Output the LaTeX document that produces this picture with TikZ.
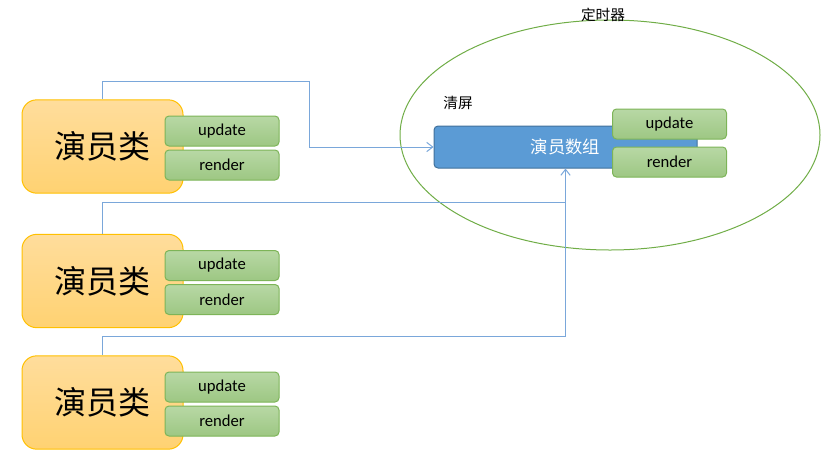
\documentclass[tikz,border=0pt]{standalone}
\usepackage{fontspec}
\setmainfont{Carlito}
\newfontfamily\cjk{Noto Sans CJK SC}
\usetikzlibrary{shapes.geometric,arrows.meta}
\definecolor{actorline}{HTML}{FFC000}
\definecolor{actortop}{HTML}{FFDD9C}
\definecolor{actorbot}{HTML}{FFD272}
\definecolor{methline}{HTML}{7DB458}
\definecolor{methtop}{HTML}{B8D8A5}
\definecolor{methbot}{HTML}{9DC783}
\definecolor{arrfill}{HTML}{5B9BD5}
\definecolor{arrline}{HTML}{41719C}
\definecolor{linkcol}{HTML}{7AA7DA}
\definecolor{timercol}{HTML}{70AD47}
\tikzset{
  actor/.style={draw=actorline, line width=0.75pt, rounded corners=11pt,
    top color=actortop, bottom color=actorbot,
    minimum width=120.75pt, minimum height=70pt,
    font=\cjk\fontsize{24}{24}\selectfont},
  method/.style={draw=methline, line width=0.75pt, rounded corners=3pt,
    top color=methtop, bottom color=methbot,
    minimum width=85.5pt, minimum height=22.5pt, font=\fontsize{12.5}{12.5}\selectfont},
  link/.style={draw=linkcol, line width=0.75pt},
  tip/.style={-{Straight Barb[length=4.5pt,width=7pt]}}
}
\begin{document}
\begin{tikzpicture}[x=0.75pt,y=-0.75pt]
\useasboundingbox (0,0) rectangle (830,472);
% Timer ellipse
\node[draw=timercol, line width=0.75pt, ellipse, minimum width=315pt, minimum height=172.5pt] (timer) at (610,135) {};
\node[font=\cjk\fontsize{11}{11}\selectfont] (timerlabel) at (603,15) {定时器};
\node[font=\cjk\fontsize{11}{11}\selectfont] (clear) at (458,103) {清屏};
% Actor array
\node[draw=arrline, fill=arrfill, line width=0.75pt, rounded corners=3pt,
  minimum width=197.25pt, minimum height=31.5pt] (array) at (565.5,147) {};
\node[text=white, font=\cjk\fontsize{13}{13}\selectfont] (arraytext) at (565.5,147) {演员数组};
\node[method] (arrupdate) at (669.5,124) {update};
\node[method] (arrrender) at (669.5,162) {render};
% Actor classes
\foreach \i/\y in {1/146.5, 2/281, 3/402.5} {
  \node[actor] (actor\i) at (102.5,\y) {演员类};
  \node[method] (update\i) at (222,\y-15.5) {update};
  \node[method] (render\i) at (222,\y+18.5) {render};
}
% Connectors
\coordinate (bend1) at (309,81);
\coordinate (bend2) at (565.5,202);
\coordinate (bend3) at (565.5,336);
\draw[link,tip] (actor1.north) |- (bend1) |- (array.west);
\draw[link] (actor2.north) |- (bend2);
\draw[link,tip] (actor3.north) |- (bend3) -- (array.south);
\end{tikzpicture}
\end{document}
